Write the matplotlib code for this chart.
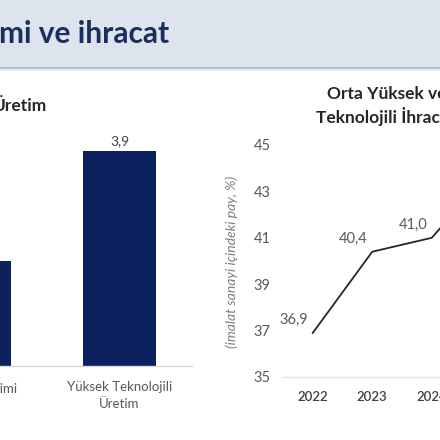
import matplotlib
matplotlib.use("Agg")
import matplotlib.pyplot as plt
from matplotlib.patches import Rectangle
from matplotlib.lines import Line2D

# ---------------- data ----------------
bar_categories = ["Sanayi Üretimi", "Yüksek Teknolojili\nÜretim"]
bar_values = [1.9, 3.9]
bar_value_labels = ["1,9", "3,9"]

years = ["2022", "2023", "2024", "2025"]
share_values = [36.9, 40.4, 41.0, 43.9]
share_value_labels = ["36,9", "40,4", "41,0", "43,9"]
share_yticks = [35, 37, 39, 41, 43, 45]

header_title = "mi ve ihracat"
left_title = "Üretim"
right_title_1 = "Orta Yüksek ve Yüksek"
right_title_2 = "Teknolojili İhracat"
right_ylabel = "(imalat sanayi içindeki pay, %)"

# ---------------- style ----------------
plt.rcParams['font.family'] = ['Lato', 'DejaVu Sans']
W = H = 440
def fx(px): return px / W
def fy(py): return 1 - py / H

NAVY = "#0c215e"
TITLE_NAVY = "#1b2f5e"
GRAY = "#595959"
DARK = "#262626"

fig = plt.figure(figsize=(4.4, 4.4), dpi=100)
fig.patch.set_facecolor("white")

# header band
fig.patches.append(Rectangle((0, fy(68)), 1, 68 / H, transform=fig.transFigure,
                             facecolor="#dde4ee", edgecolor="none", zorder=0))
fig.add_artist(Line2D([0, 1], [fy(68.5), fy(68.5)], transform=fig.transFigure,
                      color="#aeb6c2", lw=1.2))
fig.add_artist(Line2D([0, 1], [fy(70), fy(70)], transform=fig.transFigure,
                      color="#e6e9ee", lw=1.5))
fig.text(fx(-1), fy(34), header_title, ha="left", va="center",
         fontsize=21.5, fontweight="bold", color=TITLE_NAVY)

# ---------------- left bar chart ----------------
ax1 = fig.add_axes([fx(-98), fy(366), (192 + 98) / W, (366 - 118) / H])
x1 = list(range(len(bar_categories)))
ax1.bar(x1, bar_values, width=0.5, color=NAVY, zorder=2)
ax1.set_xlim(-0.5, 1.5)
ax1.set_ylim(0, 4.5)
fig.canvas.draw()
for i, (v, lab) in enumerate(zip(bar_values, bar_value_labels)):
    # only labels whose bar centre lies inside the visible (cropped) picture
    if ax1.transData.transform((i, v))[0] < 0:
        continue
    ax1.annotate(lab, (i, v), xytext=(0, 3), textcoords="offset points",
                 ha="center", va="bottom", fontsize=10, color="#404040")
ax1.set_xticks(x1, bar_categories)
ax1.tick_params(axis="x", length=0, pad=11, labelsize=9.5, labelcolor=GRAY)
for lbl in ax1.get_xticklabels():
    lbl.set_linespacing(1.5)
ax1.set_yticks([])
for s in ["top", "right", "left"]:
    ax1.spines[s].set_visible(False)
ax1.spines["bottom"].set_color("#d9d9d9")
ax1.spines["bottom"].set_linewidth(1)
ax1.set_facecolor("none")

fig.text(fx(47), fy(106), left_title, ha="right", va="center",
         fontsize=12.5, fontweight="bold", color=DARK)

# ---------------- right line chart ----------------
ax2 = fig.add_axes([fx(283), fy(377), (521 - 283) / W, (377 - 145) / H])
x2 = list(range(len(years)))
ax2.plot(x2, share_values, color=DARK, lw=1.3, zorder=3)
ax2.set_xlim(-0.5, len(years) - 0.5)
ax2.set_ylim(35, 45)
ax2.set_yticks(share_yticks)
ax2.set_xticks(x2, years)
ax2.tick_params(axis="y", length=0, pad=9, labelsize=10.5, labelcolor=GRAY)
ax2.tick_params(axis="x", length=0, pad=10, labelsize=9.5, labelcolor="#404040")
for lbl in ax2.get_xticklabels():
    lbl.set_fontweight("semibold")
for s in ["top", "right", "left"]:
    ax2.spines[s].set_visible(False)
ax2.spines["bottom"].set_color("#e3e3e3")
ax2.spines["bottom"].set_linewidth(1)
ax2.set_facecolor("none")
for i, (v, lab) in enumerate(zip(share_values, share_value_labels)):
    ax2.annotate(lab, (i, v), xytext=(-19, 13), textcoords="offset pixels",
                 ha="center", va="center", fontsize=10.5, color=GRAY)

fig.text(fx(232), fy(262), right_ylabel, rotation=90, ha="center", va="center",
         fontsize=10, fontstyle="italic", color="#7f7f7f")

fig.text(fx(327), fy(94), right_title_1, ha="left", va="center",
         fontsize=12.5, fontweight="bold", color=DARK)
fig.text(fx(316), fy(117), right_title_2, ha="left", va="center",
         fontsize=12.5, fontweight="bold", color=DARK)

fig.savefig("out.png", dpi=100, facecolor="white")
